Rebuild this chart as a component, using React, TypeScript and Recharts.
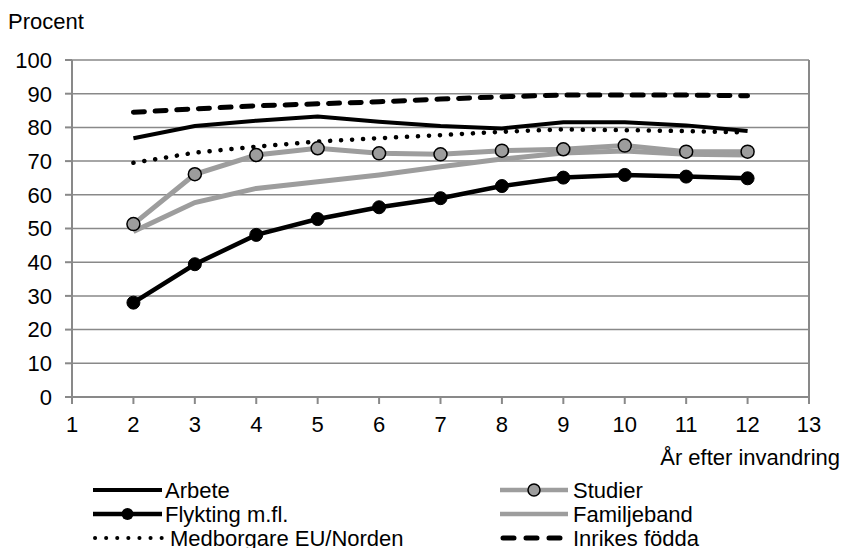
import React from "react";
import {
  LineChart,
  Line,
  XAxis,
  YAxis,
  CartesianGrid,
  ReferenceLine,
} from "recharts";

// ─── Data ────────────────────────────────────────────────────────────────────

const years = [2, 3, 4, 5, 6, 7, 8, 9, 10, 11, 12];
const arbete = [76.8, 80.4, 82.0, 83.2, 81.7, 80.4, 79.7, 81.5, 81.5, 80.6, 78.9];
const studier = [51.3, 66.1, 71.8, 73.8, 72.3, 72.0, 73.1, 73.5, 74.6, 72.8, 72.8];
const flykting = [28.0, 39.4, 48.1, 52.8, 56.3, 59.0, 62.6, 65.1, 65.9, 65.4, 64.9];
const familjeband = [49.1, 57.7, 61.9, 63.9, 65.9, 68.3, 70.6, 72.4, 73.0, 72.0, 71.8];
const medborgare = [69.5, 72.5, 74.3, 75.8, 76.8, 77.7, 78.7, 79.4, 79.2, 78.9, 78.5];
const inrikes = [84.5, 85.5, 86.4, 87.0, 87.6, 88.4, 89.1, 89.6, 89.6, 89.6, 89.4];

const xTicks = [1, 2, 3, 4, 5, 6, 7, 8, 9, 10, 11, 12, 13];
const yTicks = [0, 10, 20, 30, 40, 50, 60, 70, 80, 90, 100];

const data = years.map((year, i) => ({
  year,
  arbete: arbete[i],
  studier: studier[i],
  flykting: flykting[i],
  familjeband: familjeband[i],
  medborgare: medborgare[i],
  inrikes: inrikes[i],
}));

// ─── Styles ──────────────────────────────────────────────────────────────────

const FONT = "'Liberation Sans', Arial, sans-serif";
const FS = 22;
const GRID = "#898989";
const GREY = "#9d9d9d";
const tickStyle = { fill: "#000", fontSize: FS, fontFamily: FONT };

// ─── Legend ──────────────────────────────────────────────────────────────────

function ChartLegend() {
  const rows = [490, 514, 538];
  const lx1 = 93;
  const lx2 = 162;
  const rx1 = 500;
  const rx2 = 568;
  const txt = { fontSize: FS, fontFamily: FONT, fill: "#000" };
  return (
    <svg
      width={847}
      height={78}
      style={{ position: "absolute", left: 0, top: 470 }}
      viewBox="0 470 847 78"
    >
      {/* Arbete */}
      <line x1={lx1} x2={lx2} y1={rows[0]} y2={rows[0]} stroke="#000" strokeWidth={4} />
      <text x={lx2 + 3} y={rows[0]} dy="0.36em" {...txt}>Arbete</text>
      {/* Flykting */}
      <line x1={lx1} x2={lx2} y1={rows[1]} y2={rows[1]} stroke="#000" strokeWidth={4.5} />
      <circle cx={(lx1 + lx2) / 2} cy={rows[1]} r={6} fill="#000" />
      <text x={lx2 + 3} y={rows[1]} dy="0.36em" {...txt}>Flykting m.fl.</text>
      {/* Medborgare */}
      <line
        x1={lx1 + 2}
        x2={lx2}
        y1={rows[2]}
        y2={rows[2]}
        stroke="#000"
        strokeWidth={4}
        strokeDasharray="0.1 11"
        strokeLinecap="round"
      />
      <text x={lx2 + 8} y={rows[2]} dy="0.36em" {...txt}>Medborgare EU/Norden</text>
      {/* Studier */}
      <line x1={rx1} x2={rx2} y1={rows[0]} y2={rows[0]} stroke={GREY} strokeWidth={4.5} />
      <circle cx={(rx1 + rx2) / 2} cy={rows[0]} r={6} fill={GREY} stroke="#000" strokeWidth={1.5} />
      <text x={rx2 + 5} y={rows[0]} dy="0.36em" {...txt}>Studier</text>
      {/* Familjeband */}
      <line x1={rx1} x2={rx2} y1={rows[1]} y2={rows[1]} stroke={GREY} strokeWidth={4.5} />
      <text x={rx2 + 5} y={rows[1]} dy="0.36em" {...txt}>Familjeband</text>
      {/* Inrikes */}
      <line
        x1={rx1 + 3}
        x2={rx2 - 3}
        y1={rows[2]}
        y2={rows[2]}
        stroke="#000"
        strokeWidth={5}
        strokeDasharray="11 12"
        strokeLinecap="round"
      />
      <text x={rx2 + 5} y={rows[2]} dy="0.36em" {...txt}>Inrikes födda</text>
    </svg>
  );
}

// ─── Main ────────────────────────────────────────────────────────────────────

export default function App() {
  return (
    <div
      style={{
        position: "absolute",
        left: 0,
        top: 0,
        width: 847,
        height: 548,
        background: "#fff",
        fontFamily: FONT,
        overflow: "hidden",
      }}
    >
      <div
        style={{
          position: "absolute",
          left: 8,
          top: 9,
          fontSize: FS,
          lineHeight: "26px",
        }}
      >
        Procent
      </div>
      <div
        style={{
          position: "absolute",
          right: 7,
          top: 445,
          fontSize: FS,
          lineHeight: "26px",
        }}
      >
        År efter invandring
      </div>

      <LineChart
        width={847}
        height={548}
        data={data}
        margin={{ top: 60, right: 38, left: 30, bottom: 111 }}
        style={{ position: "absolute", left: 0, top: 0 }}
      >
        <CartesianGrid
          horizontal
          vertical={false}
          stroke={GRID}
          strokeWidth={1.5}
        />
        <XAxis
          dataKey="year"
          type="number"
          domain={[1, 13]}
          ticks={xTicks}
          interval={0}
          height={40}
          tick={tickStyle}
          tickSize={7}
          tickMargin={12}
          axisLine={{ stroke: GRID, strokeWidth: 2 }}
          tickLine={{ stroke: GRID, strokeWidth: 2 }}
        />
        <YAxis
          type="number"
          domain={[0, 100]}
          ticks={yTicks}
          interval={0}
          width={42}
          tick={tickStyle}
          tickSize={7}
          tickMargin={13}
          axisLine={{ stroke: GRID, strokeWidth: 2 }}
          tickLine={{ stroke: GRID, strokeWidth: 2 }}
        />
        <ReferenceLine x={13} stroke={GRID} strokeWidth={2} />

        <Line
          dataKey="arbete"
          stroke="#000"
          strokeWidth={4}
          dot={false}
          activeDot={false}
          isAnimationActive={false}
        />
        <Line
          dataKey="studier"
          stroke={GREY}
          strokeWidth={5}
          dot={{ r: 6.5, fill: GREY, stroke: "#000", strokeWidth: 1.5 }}
          activeDot={false}
          isAnimationActive={false}
        />
        <Line
          dataKey="flykting"
          stroke="#000"
          strokeWidth={4.5}
          dot={{ r: 6.5, fill: "#000", stroke: "#000", strokeWidth: 1 }}
          activeDot={false}
          isAnimationActive={false}
        />
        <Line
          dataKey="familjeband"
          stroke={GREY}
          strokeWidth={5}
          dot={false}
          activeDot={false}
          isAnimationActive={false}
        />
        <Line
          dataKey="medborgare"
          stroke="#000"
          strokeWidth={4.5}
          strokeDasharray="0.1 10.9"
          strokeLinecap="round"
          dot={false}
          activeDot={false}
          isAnimationActive={false}
        />
        <Line
          dataKey="inrikes"
          stroke="#000"
          strokeWidth={5}
          strokeDasharray="11 10.7"
          strokeLinecap="round"
          dot={false}
          activeDot={false}
          isAnimationActive={false}
        />
      </LineChart>

      <ChartLegend />
    </div>
  );
}
